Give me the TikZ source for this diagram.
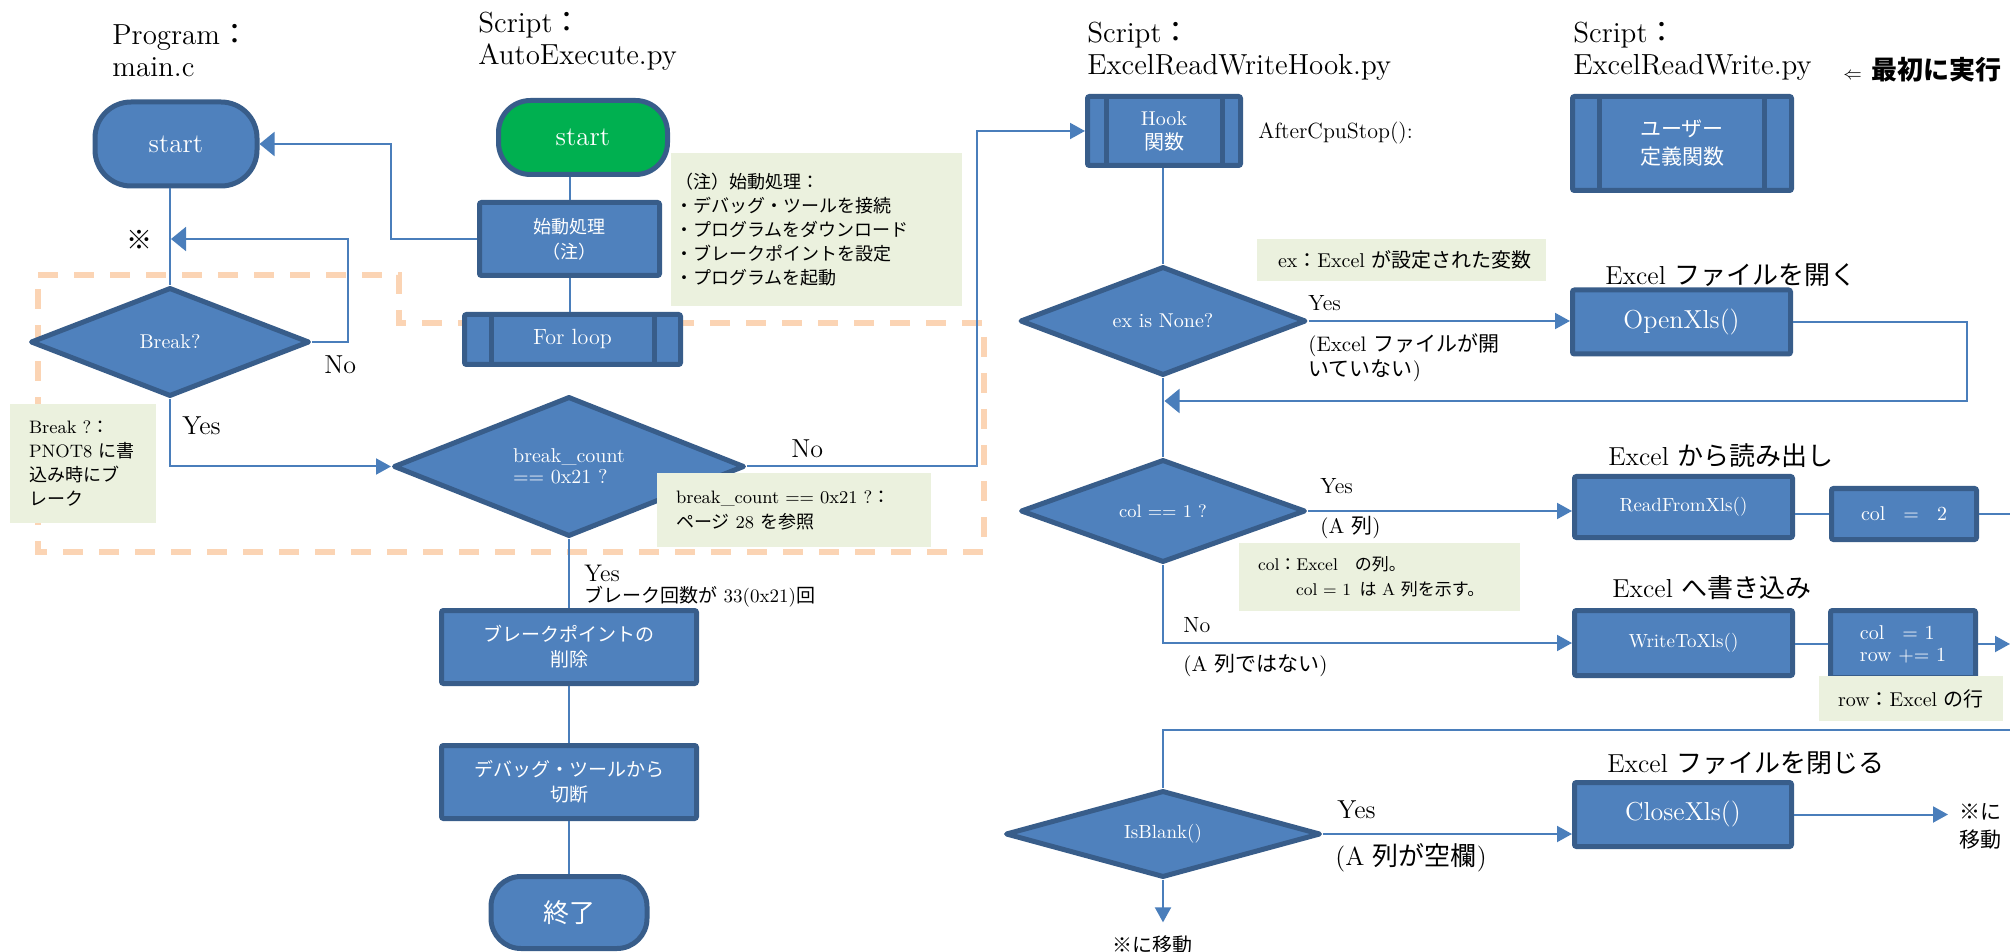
\documentclass[tikz,border=0pt]{standalone}
\usepackage{fontspec}
\usepackage{tikz}
\usetikzlibrary{positioning,arrows.meta,calc,shapes.geometric}
\newfontfamily\jp{Noto Sans CJK JP}
\newcommand{\fsz}[2]{\fontsize{#1}{#2}\selectfont}
\definecolor{boxblue}{HTML}{4F81BD}
\definecolor{boxline}{HTML}{385D8A}
\definecolor{linkblue}{HTML}{4A7EBB}
\definecolor{notegreen}{HTML}{EBF1DE}
\definecolor{startgreen}{HTML}{00B050}
\definecolor{dashorange}{HTML}{FBD4B4}

\begin{document}
\begin{tikzpicture}[x=0.5pt, y=-0.5pt,
    box/.style={draw=boxline, fill=boxblue, line width=2.5pt, rounded corners=1pt,
      text=white, align=center, inner sep=0pt, font=\fsz{9.5pt}{12.5pt}},
    subbox/.style={box, path picture={
      \draw[boxline, line width=2.5pt]
        ([xshift=#1]path picture bounding box.north west) -- ([xshift=#1]path picture bounding box.south west)
        ([xshift=-#1]path picture bounding box.north east) -- ([xshift=-#1]path picture bounding box.south east);}},
    term/.style={box, rounded corners=#1, font=\fsz{13.5pt}{16pt}},
    dia/.style={diamond, aspect=2.5, draw=boxline, fill=boxblue, line width=2.5pt,
      line join=round, text=white, align=center, inner sep=0pt, font=\fsz{10pt}{12pt}},
    note/.style={fill=notegreen, align=left, inner ysep=0pt, font=\fsz{9pt}{12pt}},
    lbl/.style={inner sep=0pt, anchor=west, align=left},
    title/.style={lbl, font=\fsz{14.5pt}{16pt}},
    conn/.style={draw=linkblue, line width=1pt},
    arr/.style={-{Triangle[length=7.5pt,width=8pt]}},
    warr/.style={-{Triangle[length=7.5pt,width=12pt]}}]
  \useasboundingbox (0,0) rectangle (2010,952);
  % dashed frame round the break loop
  \draw[dashorange, line width=3pt, dash pattern=on 10pt off 8pt]
    (38,275) -- (399,275) -- (399,323) -- (984,323) -- (984,552) -- (38,552) -- cycle;

  % Program: main.c
  \node[title] (titleMain) at (112,51) {Program{\jp ：}\\main.c};
  \node[term=18pt, minimum width=81pt, minimum height=42pt] (mainStart) at (176,144) {start};
  \node[dia, minimum width=139.5pt, minimum height=54.5pt] (breakDia) at (170,342) {Break?};
  \node[font=\fsz{13pt}{15pt}\jp, inner sep=0pt] (markSym) at (139,240) {※};
  \coordinate (mark) at (171,239);
  \node[lbl, font=\fsz{13pt}{15pt}] (noBreak) at (324,365) {No};
  \node[lbl, font=\fsz{13pt}{15pt}] (yesBreak) at (182,426) {Yes};
  \node[note, text width=54pt, inner xsep=9.5pt, minimum height=59.5pt] (breakNote) at (83,463.5)
    {Break ?{\jp ：}\\PNOT8~{\jp に書}\\{\jp 込み時にブ}\\{\jp レーク}};

  % Script: AutoExecute.py
  \node[title] (titleAuto) at (478,41) {Script{\jp ：}\\AutoExecute.py};
  \node[term=16pt, fill=startgreen, minimum width=84.5pt, minimum height=37pt] (autoStart) at (583,137.5) {start};
  \node[box, font=\fsz{9pt}{12.5pt}\jp, minimum width=90pt, minimum height=36.5pt] (initBox) at (569.5,239) {始動処理\\（注）};
  \node[subbox=13.25pt, font=\fsz{11pt}{13pt}, minimum width=108pt, minimum height=25pt] (forBox) at (572.5,339.5) {For loop};
  \node[note, font=\fsz{9pt}{12pt}\jp, text width=141.5pt, inner xsep=2pt, minimum height=76.5pt] (autoNote) at (816.5,229.5)
    {（注）始動処理：\\・デバッグ・ツールを接続\\・プログラムをダウンロード\\・ブレークポイントを設定\\・プログラムを起動};
  \node[dia, align=left, font=\fsz{10pt}{10.5pt}, minimum width=175.5pt, minimum height=70pt] (breakCount) at (569,466.5)
    {break\_count\\== 0x21 ?};
  \node[note, text width=118pt, inner xsep=9.5pt, minimum height=37pt, font=\fsz{9pt}{12.5pt}] (bcNote) at (794,510)
    {break\_count == 0x21 ?{\jp ：}\\{\jp ページ}~28~{\jp を参照}};
  \node[lbl, font=\fsz{13pt}{15pt}] (noBc) at (791,449) {No};
  \node[lbl, font=\fsz{12pt}{14pt}] (yesBc) at (584,573) {Yes};
  \node[lbl, font=\fsz{9.5pt}{12pt}] (bcCount) at (584,597) {{\jp ブレーク回数が}~33(0x21){\jp 回}};
  \node[box, font=\fsz{9.5pt}{12.5pt}\jp, minimum width=127.5pt, minimum height=36.5pt] (delBox) at (569,647) {ブレークポイントの\\削除};
  \node[box, font=\fsz{9.5pt}{12.5pt}\jp, minimum width=127.5pt, minimum height=36.5pt] (cutBox) at (569,782) {デバッグ・ツールから\\切断};
  \node[term=15pt, font=\fsz{13pt}{15pt}\jp, minimum width=78pt, minimum height=36pt] (endNode) at (569,912.5) {終了};

  % Script: ExcelReadWriteHook.py
  \node[title] (titleHook) at (1087,51) {Script{\jp ：}\\ExcelReadWriteHook.py};
  \node[subbox=9.25pt, font=\fsz{10pt}{12pt}, minimum width=76.5pt, minimum height=34.5pt] (hookBox) at (1164,131) {Hook\\{\jp 関数}};
  \node[lbl, font=\fsz{11pt}{13pt}] (afterStop) at (1258,133) {AfterCpuStop():};
  \node[dia, minimum width=143pt, minimum height=54.5pt] (exDia) at (1163,321) {ex is None?};
  \node[note, text width=123.5pt, inner xsep=10.5pt, minimum height=21pt, font=\fsz{10pt}{12pt}] (exNote) at (1401.5,260)
    {ex{\jp ：}Excel~{\jp が設定された変数}};
  \node[lbl, font=\fsz{11pt}{13pt}] (yesEx) at (1308,303) {Yes};
  \node[lbl, font=\fsz{10.5pt}{12.5pt}] (notOpen) at (1308,357.5) {(Excel~{\jp ファイルが開}\\{\jp いていない})};
  \node[lbl, font=\fsz{13pt}{15pt}] (openLbl) at (1605,275) {Excel~{\jp ファイルを開く}};
  \node[box, font=\fsz{13pt}{15pt}, minimum width=109pt, minimum height=32pt] (openBox) at (1681.5,322) {OpenXls()};
  \coordinate (rejoin) at (1164.5,401);
  \node[dia, font=\fsz{9pt}{11pt}, minimum width=142.5pt, minimum height=51.5pt] (colDia) at (1163,511) {col == 1 ?};
  \node[lbl, font=\fsz{11pt}{13pt}] (yesCol) at (1320,486) {Yes};
  \node[lbl, font=\fsz{10.5pt}{12.5pt}] (colA) at (1320,528) {(A~{\jp 列})};
  \node[note, text width=121.5pt, inner xsep=9.5pt, minimum height=34pt, font=\fsz{8.5pt}{12.5pt}] (colNote) at (1379.5,577)
    {col{\jp ：}Excel\quad{\jp の列。}\\\hspace*{19pt}col = 1\enspace{\jp は}~A~{\jp 列を示す。}};
  \node[lbl, font=\fsz{11pt}{13pt}] (noCol) at (1183,625) {No};
  \node[lbl, font=\fsz{10.5pt}{12.5pt}] (notA) at (1183,666) {(A~{\jp 列ではない})};
  \node[lbl, font=\fsz{13pt}{15pt}] (readLbl) at (1608,456) {Excel~{\jp から読み出し}};
  \node[box, minimum width=109pt, minimum height=30.5pt] (readBox) at (1683.5,507) {ReadFromXls()};
  \node[box, font=\fsz{10pt}{12pt}, minimum width=72.5pt, minimum height=25.5pt] (col2Box) at (1904,514) {col\hspace{9pt}=\hspace{9pt}2};
  \coordinate (outA) at (2010,514);
  \node[lbl, font=\fsz{13pt}{15pt}] (writeLbl) at (1612,588) {Excel~{\jp へ書き込み}};
  \node[box, minimum width=109pt, minimum height=32.5pt] (writeBox) at (1683.5,643) {WriteToXls()};
  \node[box, align=left, font=\fsz{10pt}{11pt}, minimum width=72.5pt, minimum height=33.5pt] (incBox) at (1903,644) {col\hspace{9pt}= 1\\row += 1};
  \coordinate (outB) at (2010,651);
  \node[note, text width=73pt, inner xsep=9.5pt, minimum height=22.5pt, font=\fsz{10pt}{12pt}] (rowNote) at (1911,698.5)
    {row{\jp ：}Excel~{\jp の行}};
  \coordinate (loopIn) at (2010,730);
  \node[dia, font=\fsz{9.5pt}{11pt}, minimum width=157.5pt, minimum height=43.5pt] (isBlank) at (1163,834) {IsBlank()};
  \node[lbl, font=\fsz{13pt}{15pt}] (yesBlank) at (1337,810) {Yes};
  \node[lbl, font=\fsz{13pt}{15pt}] (blankA) at (1335,858) {(A~{\jp 列が空欄})};
  \node[lbl, font=\fsz{13pt}{15pt}] (closeLbl) at (1607,763) {Excel~{\jp ファイルを閉じる}};
  \node[box, font=\fsz{13pt}{15pt}, minimum width=108.5pt, minimum height=32pt] (closeBox) at (1683,814.5) {CloseXls()};
  \node[lbl, font=\fsz{10.5pt}{14pt}\jp] (gotoA) at (1959,826) {※に\\移動};
  \node[lbl, anchor=center, font=\fsz{10pt}{12pt}\jp] (gotoB) at (1152,945) {※に移動};

  % Script: ExcelReadWrite.py
  \node[title] (titleRW) at (1573,51) {Script{\jp ：}\\ExcelReadWrite.py};
  \node[lbl, font=\fsz{13pt}{15pt}] (firstRun) at (1843,70) {{\fsz{9pt}{10pt}$\Leftarrow$}\hspace{5pt}{\jp\bfseries 最初に実行}};
  \node[subbox=13.5pt, font=\fsz{10.5pt}{14pt}\jp, minimum width=109.5pt, minimum height=47pt] (userBox) at (1682,143.5) {ユーザー\\定義関数};

  % connectors
  \draw[conn,warr] (initBox.west) -- ++(-86,0) |- (mainStart.east);
  \draw[conn] (mainStart.south -| breakDia.north) -- (breakDia.north);
  \draw[conn,warr] (breakDia.east) -- ++(36,0) |- (mark);
  \draw[conn,arr] (breakDia.south) |- (breakCount.west);
  \draw[conn,arr] (breakCount.east) -- ++(230,0) |- (hookBox.west);
  \draw[conn] (autoStart.south -| initBox.north) -- (initBox.north);
  \draw[conn] (initBox.south) -- (initBox.south |- forBox.north);
  \draw[conn] (breakCount.south) -- (delBox.north);
  \draw[conn] (delBox.south) -- (cutBox.north);
  \draw[conn] (cutBox.south) -- (endNode.north);
  \draw[conn] (hookBox.south -| exDia.north) -- (exDia.north);
  \draw[conn,arr] (exDia.east) -- (exDia.east -| openBox.west);
  \draw[conn,warr] (openBox.east) -- ++(174,0) |- (rejoin);
  \draw[conn] (exDia.south) -- (colDia.north);
  \draw[conn,arr] (colDia.east) -- (colDia.east -| readBox.west);
  \draw[conn] (col2Box.west -| readBox.east) -- (col2Box.west);
  \draw[conn] (col2Box.east) -- (outA);
  \draw[conn,arr] (colDia.south) |- (writeBox.west);
  \draw[conn] (incBox.west -| writeBox.east) -- (incBox.west);
  \draw[conn,arr] (incBox.east) -- (incBox.east -| outB);
  \draw[conn] (loopIn) -| (isBlank.north);
  \draw[conn,arr] (isBlank.east) -- (isBlank.east -| closeBox.west);
  \draw[conn,arr] (closeBox.east) -- ($(gotoA.west |- closeBox.east)+(-11,0)$);
  \draw[conn,arr] (isBlank.south) -- ($(isBlank.south |- gotoB.north)+(0,-13)$);
\end{tikzpicture}
\end{document}
